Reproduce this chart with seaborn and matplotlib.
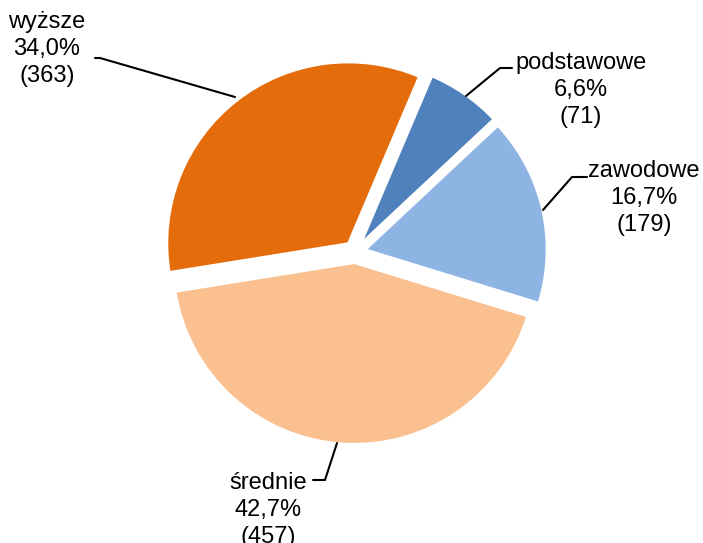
import matplotlib
matplotlib.use("Agg")
import matplotlib.pyplot as plt
import seaborn as sns

sns.set_theme(style="white")
plt.rcParams['font.family'] = ['Liberation Sans', 'DejaVu Sans']

categories = ['podstawowe', 'zawodowe', 'średnie', 'wyższe']
counts = [71, 179, 457, 363]
percents = ['6,6%', '16,7%', '42,7%', '34,0%']
colors = ['#4F81BD', '#8EB4E3', '#FAC090', '#E46C0A']

W, H = 703, 543
fig = plt.figure(figsize=(W / 100, H / 100), dpi=100)
ax = fig.add_axes([0, 0, 1, 1])

cx, cy = 355, H - 252
# explode is in data units here (pixels)
ax.pie(counts, colors=colors, startangle=67, counterclock=False,
       explode=[11] * 4, radius=181, center=(cx, cy),
       wedgeprops=dict(edgecolor='white', linewidth=1.5), frame=True)
ax.set_xlim(0, W)
ax.set_ylim(0, H)
ax.set_aspect('equal')
ax.axis('off')

# label text centers and leader lines (image pixel coords, y down)
label_pos = [(581, 90), (644, 198), (268, 510), (47, 49)]
leaders = [
    [(466, 96), (500, 68), (512, 68)],
    [(543, 210), (572, 177), (587, 177)],
    [(337, 443), (325, 480), (313, 480)],
    [(235, 97), (100, 58), (95, 58)],
]

for cat, n, p, (x, y), pts in zip(categories, counts, percents, label_pos, leaders):
    ax.text(x, H - y, f"{cat}\n{p}\n({n})", ha='center', va='center',
            multialignment='center', fontsize=17, linespacing=1.32, color='black')
    ax.plot([q[0] for q in pts], [H - q[1] for q in pts], color='black', lw=1.5)

fig.savefig('out.png', dpi=100)
